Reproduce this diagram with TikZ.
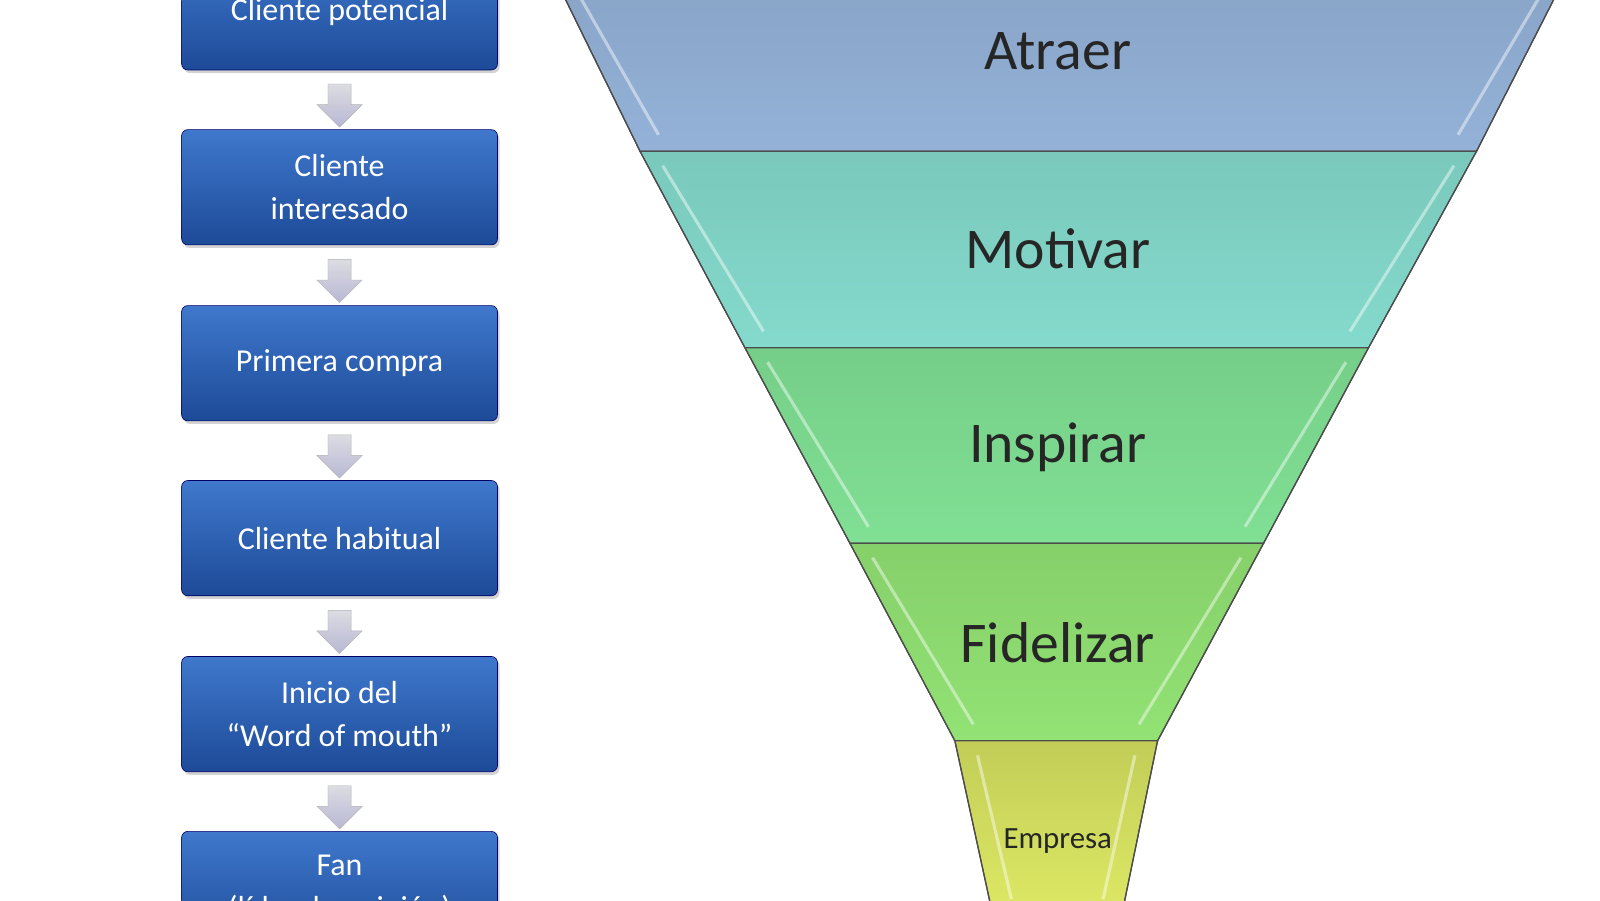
\documentclass[tikz,border=0pt]{standalone}
\usepackage{fontspec}
\setmainfont{Carlito}
\usetikzlibrary{shapes.arrows,shadows}
\begin{document}
\begin{tikzpicture}[x=1pt,y=-1pt,
  stage/.style={draw=blue!40!black,line width=0.6pt,rounded corners=6pt,top color=bT,bottom color=bB,
    minimum width=307pt,minimum height=112pt,text=white,align=center,font=\fontsize{31}{42}\selectfont,
    drop shadow={opacity=0.35,shadow xshift=2pt,shadow yshift=-3pt}},
  darr/.style={single arrow,shape border rotate=270,draw=gray!60,top color=blue!10!gray!25,bottom color=blue!25!gray!45,
    minimum width=44pt,single arrow head extend=4pt,minimum height=42pt,inner sep=4pt},
  lab/.style={text=black!85,font=\fontsize{56}{60}\selectfont},
  layer/.style={draw=gray!60!black,line width=1.2pt}]
\definecolor{bT}{HTML}{3F78CC}\definecolor{bB}{HTML}{1D4A98}
\useasboundingbox (0,0) rectangle (1555,875);
% flow boxes
\node[stage] (b1) at (330,12) {Cliente potencial};
\node[stage] (b2) at (330,182) {Cliente\\interesado};
\node[stage] (b3) at (330,353) {Primera compra};
\node[stage] (b4) at (330,523) {Cliente habitual};
\node[stage] (b5) at (330,694) {Inicio del\\“Word of mouth”};
\node[stage] (b6) at (330,864) {Fan\\(líder de opinión)};
\foreach \a/\b in {b1/b2,b2/b3,b3/b4,b4/b5,b5/b6}
  \path (\a.south) -- node[darr]{} (\b.north);
% funnel layers
\definecolor{cA}{HTML}{94B2D8}\definecolor{cB}{HTML}{84DACC}
\definecolor{cC}{HTML}{80E094}\definecolor{cD}{HTML}{92E274}\definecolor{cE}{HTML}{DDE964}
\fill[layer,top color=cA!92!black,bottom color=cA] (540,-20) -- (1520,-20) -- (1435,147) -- (622,147) -- cycle;
\fill[layer,top color=cB!92!black,bottom color=cB] (622,147) -- (1435,147) -- (1330,338) -- (724,338) -- cycle;
\fill[layer,top color=cC!92!black,bottom color=cC] (724,338) -- (1330,338) -- (1228,528) -- (826,528) -- cycle;
\fill[layer,top color=cD!92!black,bottom color=cD] (826,528) -- (1228,528) -- (1125,720) -- (928,720) -- cycle;
\fill[layer,top color=cE!88!black,bottom color=cE] (928,720) -- (1125,720) -- (1090,890) -- (965,890) -- cycle;
\draw[layer] (540,-20) -- (622,147) -- (724,338) -- (826,528) -- (928,720) -- (965,890);
\draw[layer] (1520,-20) -- (1435,147) -- (1330,338) -- (1228,528) -- (1125,720) -- (1090,890);
% bevel highlights
\foreach \yt/\yb/\lt/\rt/\lb/\rb in {-20/147/540/1520/622/1435,147/338/622/1435/724/1330,338/528/724/1330/826/1228,528/720/826/1228/928/1125,720/890/928/1125/965/1090}{
  \draw[white,opacity=0.45,line width=3pt] (\lt+22,\yt+14) -- (\lb+18,\yb-16);
  \draw[white,opacity=0.45,line width=3pt] (\rt-22,\yt+14) -- (\rb-18,\yb-16);
}
\node[lab] (t1) at (1028,50) {Atraer};
\node[lab] (t2) at (1028,242) {Motivar};
\node[lab] (t3) at (1028,435) {Inspirar};
\node[lab] (t4) at (1028,625) {Fidelizar};
\node[text=black!85,font=\fontsize{30}{34}\selectfont] (t5) at (1028,817) {Empresa};
\end{tikzpicture}
\end{document}
